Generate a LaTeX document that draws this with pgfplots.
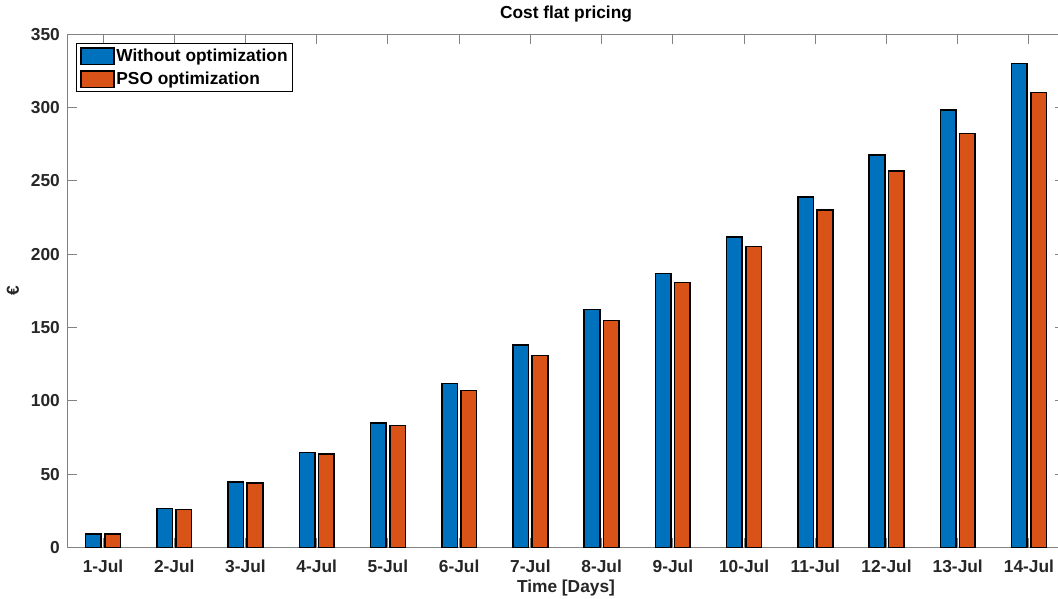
\documentclass[border=0pt]{standalone}
\usepackage{pgfplots}
\pgfplotsset{compat=1.18}
\usepackage{fontspec}
\setmainfont{Liberation Sans}
\definecolor{mblue}{RGB}{0,114,189}
\definecolor{morange}{RGB}{217,83,25}
\definecolor{axgray}{RGB}{130,130,130}
\definecolor{txt}{RGB}{38,38,38}
\newcommand{\ff}{\fontsize{13}{15}\selectfont\bfseries}
\begin{document}
\begin{tikzpicture}
\useasboundingbox (0,0) rectangle (793.5pt,449.25pt);
\begin{axis}[
  at={(50.55pt,38.6pt)}, anchor=south west,
  scale only axis,
  width=747.9pt, height=385.1pt,
  xmin=0.5, xmax=14.5, ymin=0, ymax=350,
  ybar=2.7pt, bar width=11.7pt,
  xtick={1,...,14},
  xticklabels={1-Jul,2-Jul,3-Jul,4-Jul,5-Jul,6-Jul,7-Jul,8-Jul,9-Jul,10-Jul,11-Jul,12-Jul,13-Jul,14-Jul},
  ytick={0,50,...,350},
  tick align=inside,
  major tick length=7.5pt,
  axis line style={axgray, line width=0.75pt},
  tick style={axgray, line width=0.75pt},
  /pgf/number format/assume math mode=true,
  tick label style={font=\ff, text=txt},
  xticklabel style={anchor=base, yshift=-18.4pt, inner sep=0pt},
  yticklabel style={anchor=east, xshift=-5.5pt, inner sep=0pt},
  title={Cost flat pricing},
  title style={font=\ff, text=black, at={(0.5,1)}, anchor=base, yshift=5.5pt, inner sep=0pt},
  xlabel={Time [Days]},
  xlabel style={font=\ff, text=txt, at={(0.5,0)}, anchor=base, yshift=-33.4pt, inner sep=0pt},
  ylabel={€},
  ylabel style={font=\ff, text=txt, at={([xshift=-40.8pt]rel axis cs:0,0.5)}, anchor=center, inner sep=0pt},
  legend style={at={(0,1)}, anchor=north west, xshift=6.75pt, yshift=-6.75pt,
    draw=black, line width=0.6pt, font=\ff, text=black, inner xsep=2.5pt, inner ysep=2.8pt,
    row sep=3.5pt, nodes={inner sep=1pt}},
  legend cell align=left,
]
\addplot[fill=mblue, draw=black, line width=1.2pt,
  legend image code/.code={\draw[fill=mblue, draw=black, line width=1.2pt] (0pt,-6.2pt) rectangle (25pt,6.2pt);}]
  coordinates {(1,9.3) (2,26.5) (3,44.5) (4,64.7) (5,84.9) (6,111.7) (7,138.1) (8,162.2) (9,186.8) (10,211.8) (11,239.1) (12,267.7) (13,298.4) (14,329.8)};
\addplot[fill=morange, draw=black, line width=1.2pt,
  legend image code/.code={\draw[fill=morange, draw=black, line width=1.2pt] (0pt,-6.2pt) rectangle (25pt,6.2pt);}]
  coordinates {(1,9.2) (2,26.0) (3,44.0) (4,63.6) (5,83.1) (6,107.0) (7,130.9) (8,154.7) (9,180.6) (10,205.2) (11,230.2) (12,256.6) (13,282.3) (14,310.2)};
\legend{Without optimization, PSO optimization}
\end{axis}
\end{tikzpicture}
\end{document}
